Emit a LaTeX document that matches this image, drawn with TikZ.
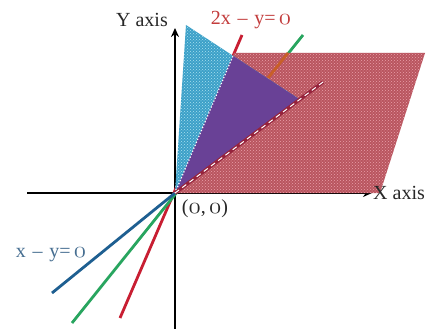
\documentclass[tikz,border=0pt]{standalone}
\usepackage{fontspec}
\setmainfont{Liberation Serif}
\usetikzlibrary{patterns,arrows.meta}
\newcommand{\oz}{{\scalebox{1.2}[1.1]{\usefont{OML}{cmm}{m}{it}0}}}
\begin{document}
\begin{tikzpicture}[x=1pt,y=-1pt]
\definecolor{cyanfill}{RGB}{60,160,200}
\definecolor{cyanpat}{RGB}{170,225,240}
\definecolor{redfill}{RGB}{185,85,95}
\definecolor{redpat}{RGB}{235,160,170}
\definecolor{purplefill}{RGB}{105,65,150}
\definecolor{redline}{RGB}{200,30,50}
\definecolor{greenline}{RGB}{40,165,95}
\definecolor{blueline}{RGB}{30,95,145}
\definecolor{orangeline}{RGB}{200,95,40}
\definecolor{maroonline}{RGB}{150,35,60}
\definecolor{redtext}{RGB}{195,60,60}
\definecolor{bluetext}{RGB}{70,110,145}
\definecolor{labtext}{RGB}{40,40,40}
\tikzset{
  axisline/.style={line width=2.6pt,-{Stealth[length=9pt,width=8pt]}},
  colline/.style={line width=2.8pt},
  lab/.style={font=\fontsize{20}{22}\selectfont, inner sep=0pt, text=labtext}
}
\useasboundingbox (0,0) rectangle (436,329);
\fill[white] (0,0) rectangle (436,329);
% key points
\coordinate (O) at (175,193);
\coordinate (Rt) at (242,35);  \coordinate (Rb) at (120,318);
\coordinate (Gt) at (303,35);  \coordinate (Gb) at (72,323);
\coordinate (Bb) at (52,293);  \coordinate (Dt) at (323,82);
\coordinate (Xl) at (27,193);  \coordinate (Xr) at (372,193);
\coordinate (Yb) at (175,329); \coordinate (Yt) at (175,28);
\coordinate (P1) at (234,53);  \coordinate (P2) at (425,53);
\coordinate (P3) at (380,193);
\coordinate (T1) at (186,25);  \coordinate (T2) at (299,99);
\coordinate (T3) at (291,107);
\coordinate (Rm) at (233,56);
\coordinate (Go1) at (288,53); \coordinate (Go2) at (268,78);
% axes
\draw[axisline] (Xl) -- (Xr);
\draw[axisline] (Yb) -- (Yt);
% lines
\draw[colline, redline] (Rb) -- (Rt);
\draw[colline, greenline] (Gb) -- (Gt);
\draw[colline, blueline] (Bb) -- (O);
% red region
\fill[redfill] (O) -- (P1) -- (P2) -- (P3) -- cycle;
\fill[pattern=crosshatch dots, pattern color=redpat] (O) -- (P1) -- (P2) -- (P3) -- cycle;
\draw[colline, orangeline] (Go1) -- (Go2);
% blue triangle
\fill[cyanfill] (O) -- (T1) -- (T2) -- (T3) -- cycle;
\fill[pattern=crosshatch dots, pattern color=cyanpat] (O) -- (T1) -- (T2) -- (T3) -- cycle;
\begin{scope}
  \clip (O) -- (P1) -- (P2) -- (P3) -- cycle;
  \fill[purplefill] (O) -- (T1) -- (T2) -- (T3) -- cycle;
\end{scope}
\draw[white, line width=1.2pt, dotted] (O) -- (Rm);
% dashed boundary x - y = 0
\draw[maroonline, line width=3.5pt] (O) -- (Dt);
\draw[white, line width=1pt, dash pattern=on 5pt off 4pt] (O) -- (Dt);
% labels
\node[lab] (ylab) at (142,20) {Y axis};
\node[lab, anchor=west] (xlab) at (373,193) {X axis};
\node[lab, text=redtext] (l2) at (251,20) {2x\,\,–\,\,y=\,\oz};
\node[lab, text=bluetext] (l1) at (51,255) {x\,\,–\,\,y=\,\oz};
\node[lab] (olab) at (205,209) {(\oz,\,\oz)};
\end{tikzpicture}
\end{document}
